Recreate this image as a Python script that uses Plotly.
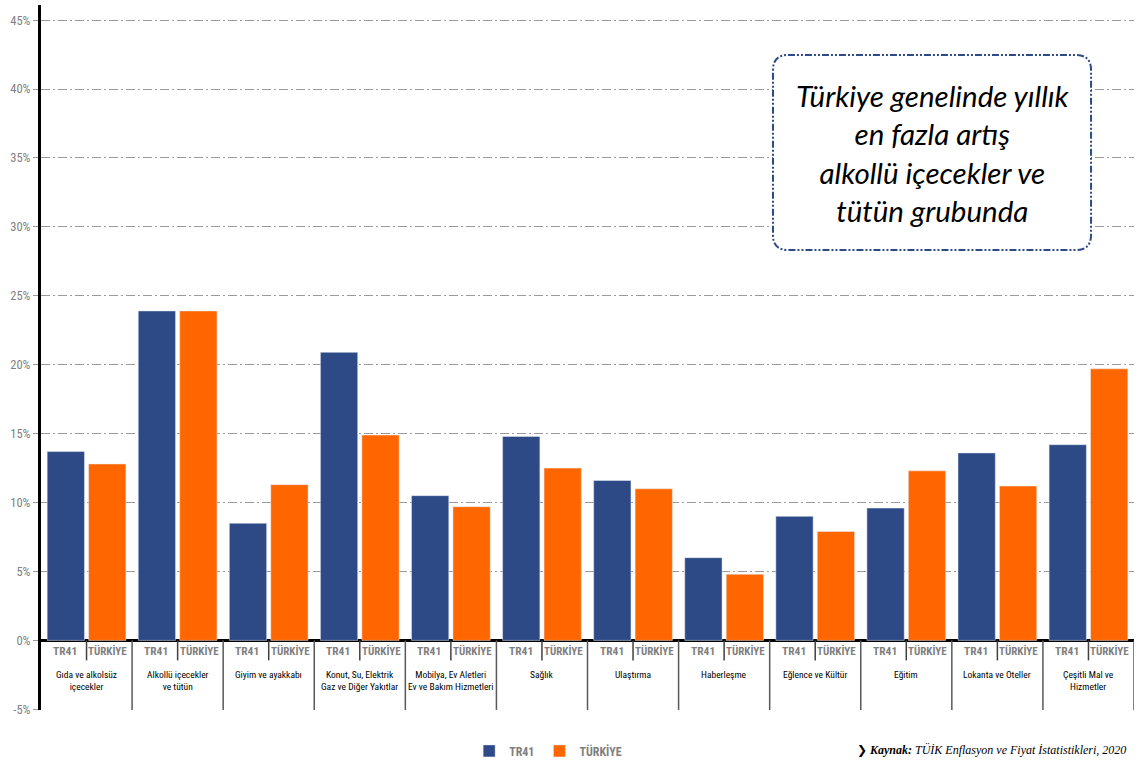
import plotly.graph_objects as go

categories = [
    "Gıda ve alkolsüz<br>içecekler",
    "Alkollü içecekler<br>ve tütün",
    "Giyim ve ayakkabı",
    "Konut, Su, Elektrik<br>Gaz ve Diğer Yakıtlar",
    "Mobilya, Ev Aletleri<br>Ev ve Bakım Hizmetleri",
    "Sağlık",
    "Ulaştırma",
    "Haberleşme",
    "Eğlence ve Kültür",
    "Eğitim",
    "Lokanta ve Oteller",
    "Çeşitli Mal ve<br>Hizmetler",
]
tr41 = [13.7, 23.9, 8.5, 20.9, 10.5, 14.8, 11.6, 6.0, 9.0, 9.6, 13.6, 14.2]
turkiye = [12.8, 23.9, 11.3, 14.9, 9.7, 12.5, 11.0, 4.8, 7.9, 12.3, 11.2, 19.7]
series_names = ["TR41", "TÜRKİYE"]
y_ticks = [-5, 0, 5, 10, 15, 20, 25, 30, 35, 40, 45]
grid_vals = [5, 10, 15, 20, 25, 30, 35, 40, 45]

NAVY = "#2D4A86"
ORANGE = "#FF6600"
GRAY = "#7F7F7F"
COND = "Roboto Condensed, DejaVu Sans Condensed, Liberation Sans Narrow, Roboto, sans-serif"

idx = list(range(len(categories)))

fig = go.Figure()
fig.add_trace(go.Bar(x=idx, y=tr41, name=series_names[0], marker_color=NAVY))
fig.add_trace(go.Bar(x=idx, y=turkiye, name=series_names[1], marker_color=ORANGE))

# invisible trace on y2 carrying the dash-dot gridlines
fig.add_trace(go.Scatter(x=[0], y=[0], yaxis="y2", mode="markers",
                         marker=dict(opacity=0), showlegend=False, hoverinfo="skip"))

yr = [-5.05, 46.1]
fig.update_layout(
    width=1145, height=762,
    margin=dict(l=41, r=11, t=5, b=52, autoexpand=False),
    paper_bgcolor="white", plot_bgcolor="white",
    barmode="group", bargap=0.09, bargroupgap=0.1,
    xaxis=dict(range=[-0.5, 11.5], showticklabels=False, showgrid=False,
               zeroline=False, showline=False, ticks="", automargin=False),
    yaxis=dict(range=yr, tickvals=y_ticks, ticktext=[f"{v}%" for v in y_ticks],
               showgrid=False, zeroline=True, zerolinecolor="black", zerolinewidth=2.5,
               showline=True, linecolor="black", linewidth=3, automargin=False,
               ticks="outside", ticklen=5, tickcolor="#999999",
               tickfont=dict(family=COND, size=12.5, color=GRAY)),
    yaxis2=dict(range=yr, overlaying="y", tickvals=grid_vals, showticklabels=False,
                showgrid=True, gridcolor="#9a9a9a", gridwidth=1.3, automargin=False,
                griddash="9px,3px,2px,3px", zeroline=False, showline=False),
    legend=dict(orientation="h", x=0.464, xanchor="center", y=-0.058, yanchor="middle",
                font=dict(family=COND, size=12, color=GRAY, weight="bold"),
                traceorder="normal", itemwidth=30),
    showlegend=True,
)

shapes = []
annotations = []
for i in idx:
    annotations.append(dict(x=i - 0.235, y=-0.8, xref="x", yref="y", text="TR41",
                            xanchor="center", yanchor="middle", showarrow=False,
                            font=dict(family=COND, size=11.5, color=GRAY, weight="bold")))
    annotations.append(dict(x=i + 0.235, y=-0.8, xref="x", yref="y", text="TÜRKİYE",
                            xanchor="center", yanchor="middle", showarrow=False,
                            font=dict(family=COND, size=11, color=GRAY, weight="bold")))
    annotations.append(dict(x=i, y=-1.95, xref="x", yref="y", text=categories[i],
                            xanchor="center", yanchor="top", showarrow=False,
                            font=dict(family=COND, size=9.5, color="black")))
    shapes.append(dict(type="line", xref="x", yref="y", x0=i, x1=i, y0=0, y1=-1.45,
                       line=dict(color="#404040", width=1.5)))
    shapes.append(dict(type="line", xref="x", yref="y", x0=i + 0.5, x1=i + 0.5, y0=0, y1=-5.1,
                       line=dict(color="#595959", width=1.5)))

# rounded dash-dot callout box (paper coords)
x0, x1, y0, y1 = 0.6697, 0.9607, 0.6525, 0.929
rx, ry = 0.0137, 0.0213
path = (f"M {x0+rx},{y1} L {x1-rx},{y1} Q {x1},{y1} {x1},{y1-ry} "
        f"L {x1},{y0+ry} Q {x1},{y0} {x1-rx},{y0} L {x0+rx},{y0} "
        f"Q {x0},{y0} {x0},{y0+ry} L {x0},{y1-ry} Q {x0},{y1} {x0+rx},{y1} Z")
shapes.append(dict(type="path", xref="paper", yref="paper", path=path,
                   fillcolor="white", line=dict(color="#2D4A86", width=2,
                                                dash="7px,2px,2px,2px,2px,2px")))
annotations.append(dict(x=(x0 + x1) / 2 + 0.001, y=(y0 + y1) / 2, xref="paper", yref="paper",
                        xanchor="center", yanchor="middle",
                        text="<i>Türkiye genelinde yıllık<br>en fazla artış<br>alkollü içecekler ve<br>tütün grubunda</i>",
                        showarrow=False, align="center",
                        font=dict(family="Lato, Open Sans, sans-serif", size=29.5, color="black")))

annotations.append(dict(x=(1128 - 41) / 1093, y=1 - (749 - 5) / 705, xref="paper", yref="paper",
                        xanchor="right", yanchor="middle", showarrow=False,
                        text="❯ <b><i>Kaynak:</i></b> <i>TÜİK Enflasyon ve Fiyat İstatistikleri, 2020</i>",
                        font=dict(family="Liberation Serif, DejaVu Serif, serif", size=12, color="black")))

fig.update_layout(shapes=shapes, annotations=annotations)
fig.write_html("out.html", config={"displayModeBar": False},
               post_script="document.body.style.margin='0';")
